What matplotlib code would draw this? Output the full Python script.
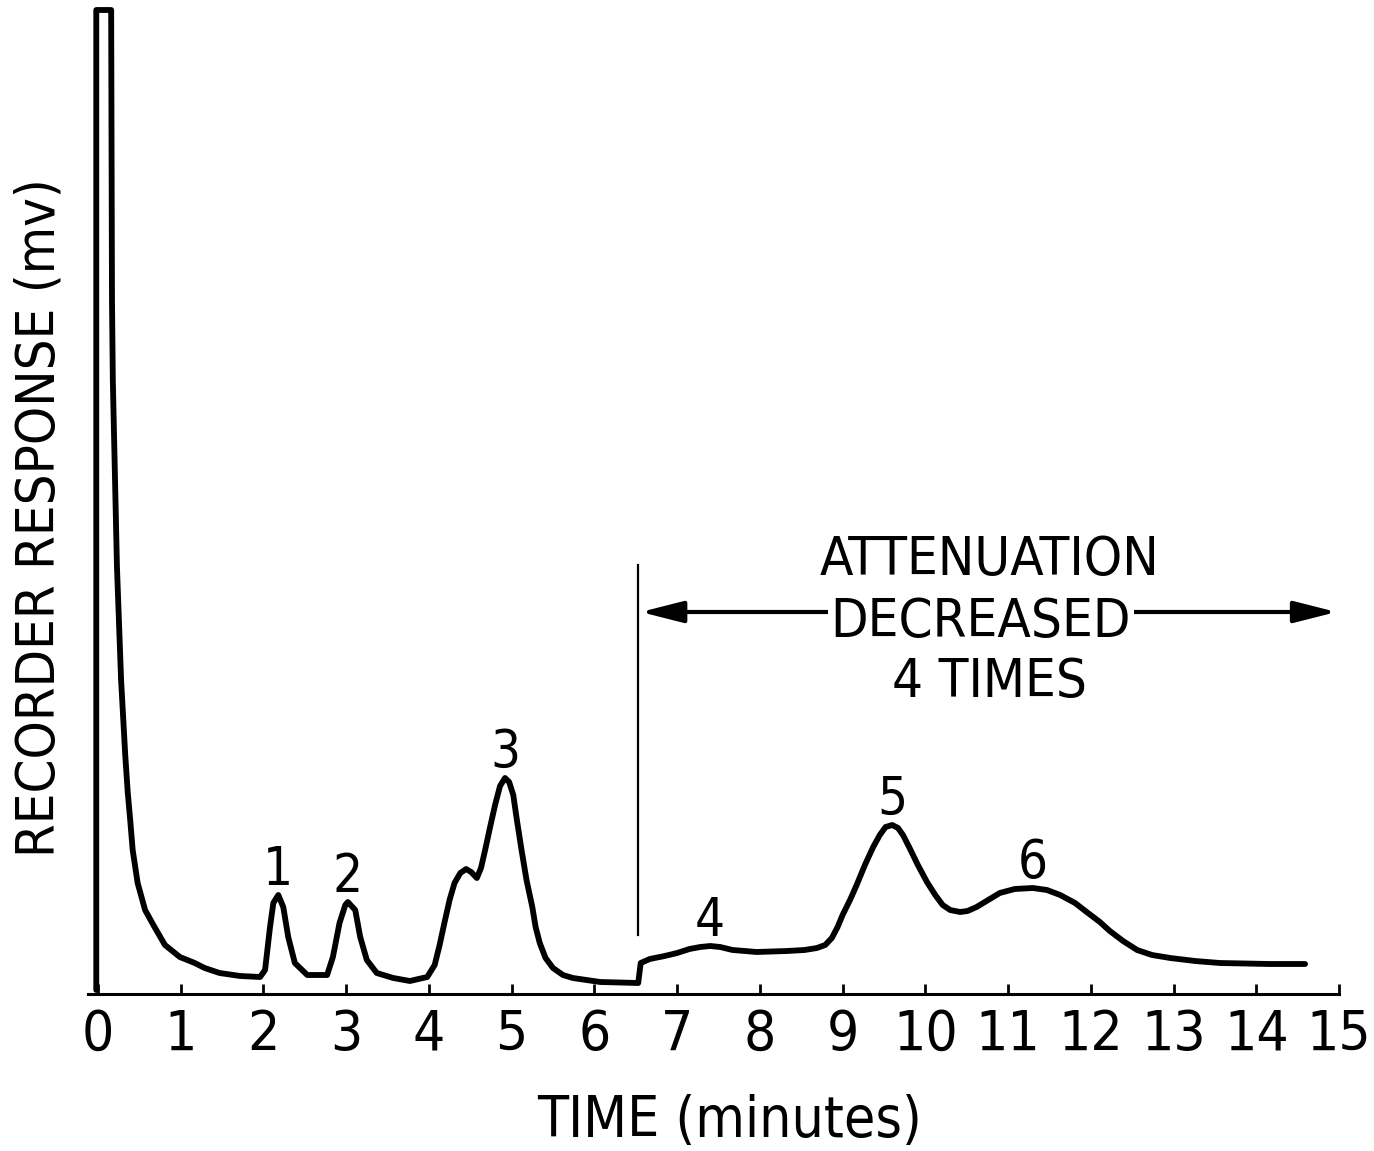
import numpy as np
import matplotlib
matplotlib.use('Agg')
import matplotlib.pyplot as plt
from matplotlib import font_manager as fm
from matplotlib.textpath import TextPath

# chromatogram trace (time in minutes, response in mv)
time_min = [-0.02, -0.02, 0.16, 0.17, 0.18, 0.23, 0.28, 0.33, 0.36, 0.39, 0.42, 0.48,
            0.57, 0.67, 0.81, 0.99, 1.17, 1.29, 1.47, 1.72, 1.96, 2.02, 2.08, 2.12,
            2.18, 2.24, 2.30, 2.38, 2.53, 2.77, 2.84, 2.92, 2.99, 3.02, 3.11, 3.17,
            3.25, 3.37, 3.57, 3.77, 3.98, 4.07, 4.13, 4.19, 4.25, 4.31, 4.38, 4.45,
            4.51, 4.58, 4.63, 4.68, 4.74, 4.80, 4.86, 4.92, 4.97, 5.02, 5.06, 5.12,
            5.18, 5.25, 5.29, 5.34, 5.41, 5.50, 5.62, 5.74, 6.07, 6.53, 6.56, 6.67,
            6.85, 7.00, 7.15, 7.28, 7.40, 7.52, 7.67, 7.82, 7.96, 8.33, 8.54, 8.69,
            8.79, 8.87, 8.94, 9.00, 9.09, 9.17, 9.27, 9.37, 9.45, 9.52, 9.60, 9.67,
            9.73, 9.81, 9.91, 10.02, 10.12, 10.21, 10.30, 10.42, 10.51, 10.62, 10.76,
            10.90, 11.08, 11.30, 11.47, 11.63, 11.81, 11.95, 12.11, 12.23, 12.39,
            12.56, 12.74, 12.96, 13.26, 13.56, 14.16, 14.59]
response = [0.4, 98.4, 98.4, 69.4, 61.4, 42.7, 31.4, 23.9, 20.2, 17.4, 14.4, 11.1,
            8.4, 6.9, 4.9, 3.7, 3.1, 2.6, 2.1, 1.8, 1.7, 2.4, 6.7, 9.1,
            9.9, 8.7, 5.7, 3.1, 1.9, 1.9, 3.7, 7.1, 8.9, 9.2, 8.4, 5.7,
            3.4, 2.1, 1.6, 1.3, 1.7, 2.9, 4.9, 7.2, 9.4, 11.1, 12.1, 12.5,
            12.2, 11.6, 12.6, 14.4, 16.7, 18.9, 20.8, 21.6, 21.2, 19.9, 17.6, 14.4,
            11.4, 8.7, 6.7, 5.1, 3.6, 2.6, 1.9, 1.6, 1.2, 1.1, 3.1, 3.5,
            3.8, 4.1, 4.5, 4.7, 4.8, 4.7, 4.4, 4.3, 4.2, 4.3, 4.4, 4.6,
            4.9, 5.6, 6.7, 7.9, 9.4, 10.9, 12.9, 14.7, 15.9, 16.7, 16.9, 16.6,
            15.9, 14.6, 12.9, 11.2, 9.9, 8.9, 8.4, 8.2, 8.3, 8.7, 9.4,
            10.1, 10.5, 10.6, 10.4, 9.9, 9.1, 8.2, 7.2, 6.3, 5.3,
            4.4, 3.9, 3.6, 3.3, 3.1, 3.0, 3.0]

peak_ids = ['1', '2', '3', '4', '5', '6']
peak_time = [2.18, 3.02, 4.92, 7.40, 9.60, 11.30]
peak_resp = [9.9, 9.2, 21.6, 4.8, 16.9, 10.6]

ticks = list(range(0, 16))
atten_start = 6.53
atten_end = 15.0

STRETCH_RANK = {'extra-condensed': 0, 'condensed': 1, 'ultra-condensed': 2,
                'semi-condensed': 3}


def pick_font():
    # the original lettering is a very narrow grotesque: look for a condensed sans face
    best = None
    for f in fm.fontManager.ttflist:
        n = f.name.lower()
        if f.style != 'normal' or 'mono' in n or 'serif' in n:
            continue
        w = f.weight if isinstance(f.weight, int) else fm.weight_dict.get(f.weight, 400)
        if w not in (400, 500):
            continue
        if f.stretch in STRETCH_RANK:
            rank = STRETCH_RANK[f.stretch]
        elif 'narrow' in n or 'condensed' in n:
            rank = 1
        else:
            continue
        score = rank * 2 + (0 if w == 400 else 1)
        if best is None or score < best[0]:
            best = (score, f.fname)
    if best:
        return fm.FontProperties(fname=best[1])
    return fm.FontProperties(family=['Liberation Sans', 'DejaVu Sans'])


base_fp = pick_font()


def sized(text, width_px, max_pt):
    # largest size that keeps the text within the width it has on the chart
    w = TextPath((0, 0), text, size=1, prop=base_fp).get_extents().width
    fp = base_fp.copy()
    fp.set_size(min(max_pt, width_px / (w * 100 / 72)))
    return fp


fp_tick = sized('12', 54, 50)
fp_peak = fp_tick.copy()
fp_peak.set_size(fp_tick.get_size() * 0.93)
fp_note = sized('ATTENUATION', 335, 48)
fp_xlab = sized('TIME (minutes)', 380, 46)
fp_ylab = sized('RECORDER RESPONSE (mv)', 670, 46)

fig = plt.figure(figsize=(13.74, 11.51), dpi=100)
ax = fig.add_axes([88 / 1374, 1 - 994 / 1151, (1339 - 88) / 1374, 994 / 1151])
ax.set_xlim(-0.12, 15.0)
ax.set_ylim(0, 99.4)

ax.plot(time_min, response, color='black', lw=4.2, solid_joinstyle='round',
        solid_capstyle='round', clip_on=False)

for pid, t, r in zip(peak_ids, peak_time, peak_resp):
    ax.annotate(pid, (t, r), xytext=(0, 7), textcoords='offset points',
                ha='center', va='baseline', fontproperties=fp_peak)

# attenuation change marker
ax.plot([atten_start, atten_start], [5.9, 42.9], color='black', lw=1.6)
ax.annotate('', xy=(atten_start + 0.03, 38.2), xytext=(atten_end - 0.03, 38.2),
            arrowprops=dict(arrowstyle='<|-|>,head_length=1.3,head_width=0.33',
                            color='black', lw=3, mutation_scale=20,
                            shrinkA=0, shrinkB=0))
ax.text(10.78, 41.9, 'ATTENUATION', ha='center', va='baseline', fontproperties=fp_note)
ax.text(10.67, 35.7, 'DECREASED', ha='center', va='baseline', fontproperties=fp_note,
        bbox=dict(facecolor='white', edgecolor='none', pad=2))
ax.text(10.77, 29.7, '4 TIMES', ha='center', va='baseline', fontproperties=fp_note)

for s in ['left', 'top', 'right']:
    ax.spines[s].set_visible(False)
ax.spines['bottom'].set_linewidth(2.2)
ax.set_yticks([])
ax.set_xticks(ticks)
ax.set_xticklabels([str(t) for t in ticks])
ax.tick_params(axis='x', direction='in', length=7, width=2, pad=10)
for lab in ax.get_xticklabels():
    lab.set_fontproperties(fp_tick)

fig.text(730 / 1374, 1 - 1137 / 1151, 'TIME (minutes)', ha='center', va='baseline',
         fontproperties=fp_xlab)
fig.text(40 / 1374, 1 - 518 / 1151, 'RECORDER RESPONSE (mv)', ha='center',
         va='center', rotation=90, fontproperties=fp_ylab)

fig.savefig('out.png', dpi=100)
